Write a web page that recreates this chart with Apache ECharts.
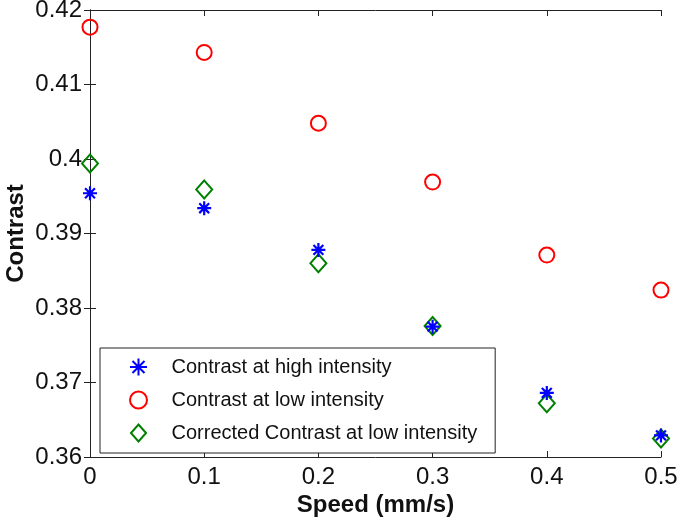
<!DOCTYPE html>
<html>
<head>
<meta charset="utf-8">
<script src="https://cdn.jsdelivr.net/npm/echarts@6/dist/echarts.min.js"></script>
<style>
html,body{margin:0;padding:0;background:#fff;}
#chart{width:678px;height:519px;}
</style>
</head>
<body>
<div id="chart"></div>
<script>
const speeds = [0, 0.1, 0.2, 0.3, 0.4, 0.5];
const contrastHigh = [0.3954, 0.3934, 0.3878, 0.3775, 0.3686, 0.3629];
const contrastLow = [0.4177, 0.4143, 0.4048, 0.3969, 0.3871, 0.3824];
const correctedLow = [0.3994, 0.3959, 0.3860, 0.3776, 0.3672, 0.3625];
const seriesNames = ['Contrast at high intensity', 'Contrast at low intensity', 'Corrected Contrast at low intensity'];
const xTicks = ['0', '0.1', '0.2', '0.3', '0.4', '0.5'];
const yTicks = ['0.36', '0.37', '0.38', '0.39', '0.4', '0.41', '0.42'];

const FONT = '"Liberation Sans", Arial, sans-serif';
const TXT = '#111';
const AX = '#222';
const star = 'path://M0,-10L0,10M-10,0L10,0M-7.07,-7.07L7.07,7.07M-7.07,7.07L7.07,-7.07';
const diamond = 'path://M0,-9L8,0L0,9L-8,0Z';

function pair(xs, ys){ return xs.map((x,i)=>[x, ys[i]]); }

const chart = echarts.init(document.getElementById('chart'));
const baseAxisLine = {show:true, lineStyle:{color:AX, width:1}};
const option = {
  animation:false,
  backgroundColor:'#fff',
  grid:{left:90, right:17, top:10, bottom:62, containLabel:false, outerBoundsMode:'none'},
  xAxis:[{
    type:'value', min:0, max:0.5, interval:0.1, position:'bottom',
    axisLine:baseAxisLine,
    axisTick:{show:true, inside:true, length:6, lineStyle:{color:AX}},
    splitLine:{show:false},
    axisLabel:{fontSize:24, fontFamily:FONT, color:TXT, margin:8,
      formatter:(v)=>xTicks[Math.round(v*10)]},
    name:'Speed (mm/s)', nameLocation:'middle', nameGap:36, nameMoveOverlap:false,
    nameTextStyle:{fontSize:24, fontWeight:'bold', fontFamily:FONT, color:TXT}
  },{
    type:'value', min:0, max:0.5, interval:0.1, position:'top',
    axisLine:baseAxisLine,
    axisTick:{show:true, inside:true, length:6, lineStyle:{color:AX}},
    splitLine:{show:false}, axisLabel:{show:false}
  }],
  yAxis:[{
    type:'value', min:0.36, max:0.42, interval:0.01, position:'left',
    axisLine:baseAxisLine,
    axisTick:{show:true, inside:true, length:6, lineStyle:{color:AX}},
    splitLine:{show:false},
    axisLabel:{fontSize:24, fontFamily:FONT, color:TXT, margin:8,
      formatter:(v)=>yTicks[Math.round((v-0.36)*100)]},
    name:'Contrast', nameLocation:'middle', nameGap:62, nameRotate:90, nameMoveOverlap:false,
    nameTextStyle:{fontSize:24, fontWeight:'bold', fontFamily:FONT, color:TXT}
  },{
    type:'value', min:0.36, max:0.42, interval:0.01, position:'right',
    axisLine:baseAxisLine,
    axisTick:{show:true, inside:true, length:6, lineStyle:{color:AX}},
    splitLine:{show:false}, axisLabel:{show:false}
  }],
  legend:{
    orient:'vertical', left:100, top:348,
    backgroundColor:'#fff', borderColor:AX, borderWidth:1, borderRadius:0,
    padding:[8,18,9,29], itemGap:11, itemWidth:56, itemHeight:17,
    textStyle:{fontSize:20, fontFamily:FONT, color:TXT, lineHeight:22},
    data:[{name:seriesNames[0], icon:star},{name:seriesNames[1]},{name:seriesNames[2], icon:diamond}]
  },
  series:[{
    name:seriesNames[0], type:'scatter', data:pair(speeds, contrastHigh),
    symbol:star, symbolSize:14, z:3,
    itemStyle:{color:'#0000ff', borderColor:'#0000ff', borderWidth:2.2, opacity:1}
  },{
    name:seriesNames[1], type:'scatter', data:pair(speeds, contrastLow),
    symbol:'circle', symbolSize:15, z:2,
    itemStyle:{color:'rgba(255,255,255,0)', borderColor:'#ff0000', borderWidth:2, opacity:1}
  },{
    name:seriesNames[2], type:'scatter', data:pair(speeds, correctedLow),
    symbol:diamond, symbolSize:[16,18], symbolKeepAspect:false, z:2,
    itemStyle:{color:'rgba(255,255,255,0)', borderColor:'#008000', borderWidth:2, opacity:1}
  }]
};
chart.setOption(option);
</script>
</body>
</html>
